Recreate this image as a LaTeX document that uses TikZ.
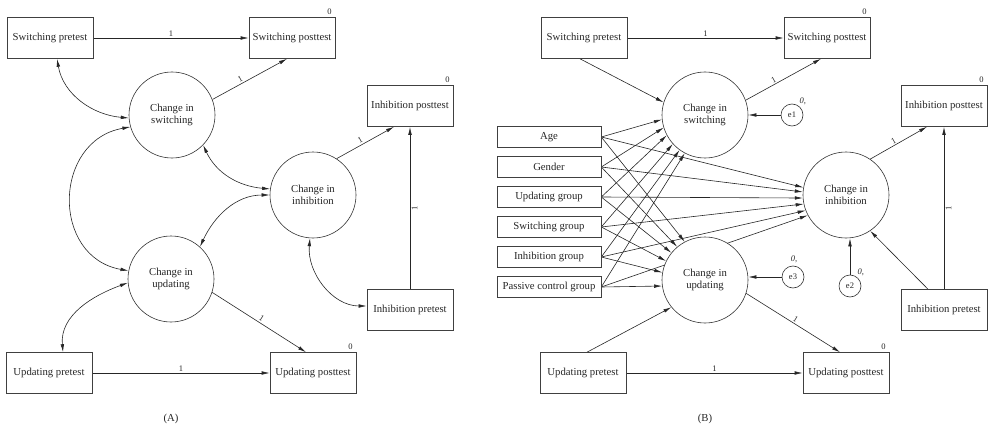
\documentclass[tikz,border=0pt]{standalone}
\usepackage{fontspec}
\setmainfont{Liberation Serif}
\usetikzlibrary{arrows.meta,calc,backgrounds}

\begin{document}
\begin{tikzpicture}[x=1pt,y=-1pt,
    every node/.style={font=\fontsize{10.7}{12}\selectfont,text=black!85},
    box/.style={draw=black!75,line width=0.6pt,minimum width=86pt,minimum height=41pt,inner sep=0pt},
    pbox/.style={draw=black!75,line width=0.6pt,minimum width=104pt,minimum height=21pt,inner sep=0pt},
    latent/.style={circle,draw=black!80,line width=0.6pt,fill=white,minimum size=86pt,inner sep=0pt,align=center},
    err/.style={circle,draw=black!80,line width=0.6pt,fill=white,minimum size=22pt,inner sep=0pt,font=\fontsize{8.5}{9}\selectfont},
    reg/.style={draw=black!85,line width=0.6pt,-{Latex[length=8pt,width=3.6pt]}},
    cov/.style={draw=black!85,line width=0.6pt,{Latex[length=8pt,width=3.6pt]}-{Latex[length=8pt,width=3.6pt]}},
    wt/.style={font=\fontsize{8.5}{9}\selectfont,inner sep=1.5pt},
  ]
      \useasboundingbox (0,0) rectangle (989,428);

      % (A)
      \node[box] (swpreA) at (50,38) {Switching pretest};
      \node[box] (swpostA) at (292,38) {Switching posttest};
      \node[box] (inhpostA) at (410,106) {Inhibition posttest};
      \node[box] (inhpreA) at (410,310) {Inhibition pretest};
      \node[box] (updpreA) at (49,373) {Updating pretest};
      \node[box] (updpostA) at (313,373) {Updating posttest};
      \node[latent] (chswA) at (172,115) {Change in\\switching};
      \node[latent] (chinhA) at (313,195) {Change in\\inhibition};
      \node[latent] (chupdA) at (171,279) {Change in\\updating};
      \node[wt,anchor=south east] (zswA) at ($(swpostA.north east)+(-2,-1)$) {0};
      \node[wt,anchor=south east] (zinhA) at ($(inhpostA.north east)+(-2,-1)$) {0};
      \node[wt,anchor=south east] (zupdA) at ($(updpostA.north east)+(-2,-1)$) {0};
      \node (capA) at (171,419) {(A)};

      % (B)
      \node[box] (swpreB) at (584,38) {Switching pretest};
      \node[box] (swpostB) at (827,38) {Switching posttest};
      \node[box] (inhpostB) at (944,106) {Inhibition posttest};
      \node[box] (inhpreB) at (944,310) {Inhibition pretest};
      \node[box] (updpreB) at (583,373) {Updating pretest};
      \node[box] (updpostB) at (846,373) {Updating posttest};
      \node[latent] (chswB) at (705,115) {Change in\\switching};
      \node[latent] (chinhB) at (846,195) {Change in\\inhibition};
      \node[latent] (chupdB) at (705,280) {Change in\\updating};
      \node[err] (e1) at (792,115) {e1};
      \node[err] (e2) at (850,286) {e2};
      \node[err] (e3) at (793,277) {e3};
      \node[wt,anchor=south west] (ze1) at ($(e1.north east)+(-2,-1)$) {\itshape 0,};
      \node[wt,anchor=south west] (ze2) at ($(e2.north east)+(-2,-1)$) {\itshape 0,};
      \node[wt,anchor=south] (ze3) at ($(e3.north)+(1,-1)$) {\itshape 0,};
      \node[wt,anchor=south east] (zswB) at ($(swpostB.north east)+(-2,-1)$) {0};
      \node[wt,anchor=south east] (zinhB) at ($(inhpostB.north east)+(-2,-1)$) {0};
      \node[wt,anchor=south east] (zupdB) at ($(updpostB.north east)+(-2,-1)$) {0};
      \node (capB) at (705,419) {(B)};

      % Covariates
      \node[pbox] (age) at (549,137) {Age};
      \node[pbox] (gender) at (549,167) {Gender};
      \node[pbox] (updgrp) at (549,197) {Updating group};
      \node[pbox] (swgrp) at (549,227) {Switching group};
      \node[pbox] (inhgrp) at (549,257) {Inhibition group};
      \node[pbox] (pasgrp) at (549,287) {Passive control group};

      \begin{pgfonlayer}{background}
        % Paths (A)
        \draw[reg] (swpreA) -- node[wt,above]{1} (swpostA);
        \draw[reg] (chswA.21) -- node[wt,sloped,above,pos=0.4]{1} ([xshift=-5pt]swpostA.south);
        \draw[reg] (chinhA.57) -- node[wt,sloped,above,pos=0.45]{1} ([xshift=-16pt]inhpostA.south);
        \draw[reg] (chupdA.342) -- node[wt,sloped,above]{1} ([xshift=-7pt]updpostA.north);
        \draw[reg] (inhpreA) -- node[wt,sloped,below]{1} (inhpostA);
        \draw[reg] (updpreA) -- node[wt,above]{1} (updpostA);

        \draw[cov] ([xshift=7pt]swpreA.south) to[out=-80,in=175] (chswA.184);
        \draw[cov] (chswA.196) to[out=190,in=170,looseness=1.4] (chupdA.169);
        \draw[cov] (chswA.316) to[out=-65,in=175] (chinhA.172);
        \draw[cov] (chinhA.180) to[out=180,in=65] (chupdA.48);
        \draw[cov] (chupdA.185) to[out=200,in=95] ([xshift=14pt]updpreA.north);
        \draw[cov] (chinhA.266) to[out=-95,in=180] ([yshift=4pt]inhpreA.west);

        % Paths (B)
        \draw[reg] (swpreB) -- node[wt,above]{1} (swpostB);
        \draw[reg] ([xshift=-4pt]swpreB.south) -- (chswB.163);
        \draw[reg] (chswB.20) -- node[wt,sloped,above,pos=0.4]{1} ([xshift=-6pt]swpostB.south);
        \draw[reg] (e1) -- (chswB);
        \draw[reg] (chinhB.56) -- node[wt,sloped,above,pos=0.45]{1} ([xshift=-17pt]inhpostB.south);
        \draw[reg] (e2) -- (e2 |- chinhB.south);
        \draw[reg] ([xshift=-16pt]inhpreB.north) -- (chinhB.304);
        \draw[reg] (inhpreB) -- node[wt,sloped,below]{1} (inhpostB);
        \draw[reg] (e3) -- (e3 -| chupdB.east);
        \draw[reg] (chupdB.342) -- node[wt,sloped,above]{1} ([xshift=-6pt]updpostB.north);
        \draw[reg] ([xshift=4pt]updpreB.north) -- (chupdB.219);
        \draw[reg] (updpreB) -- node[wt,above]{1} (updpostB);

        % Covariates to the three changes
        \foreach \src/\asw/\ainh/\aupd in {age/186/170/118, gender/197/176/130,
            updgrp/208/184/141, swgrp/222/192/154, inhgrp/234/201/170, pasgrp/242/208/188}
        {
          \draw[reg] (\src.east) -- (chswB.\asw);
          \draw[reg] (\src.east) -- (chinhB.\ainh);
          \draw[reg] (\src.east) -- (chupdB.\aupd);
        }
      \end{pgfonlayer}
    \end{tikzpicture}
\end{document}
